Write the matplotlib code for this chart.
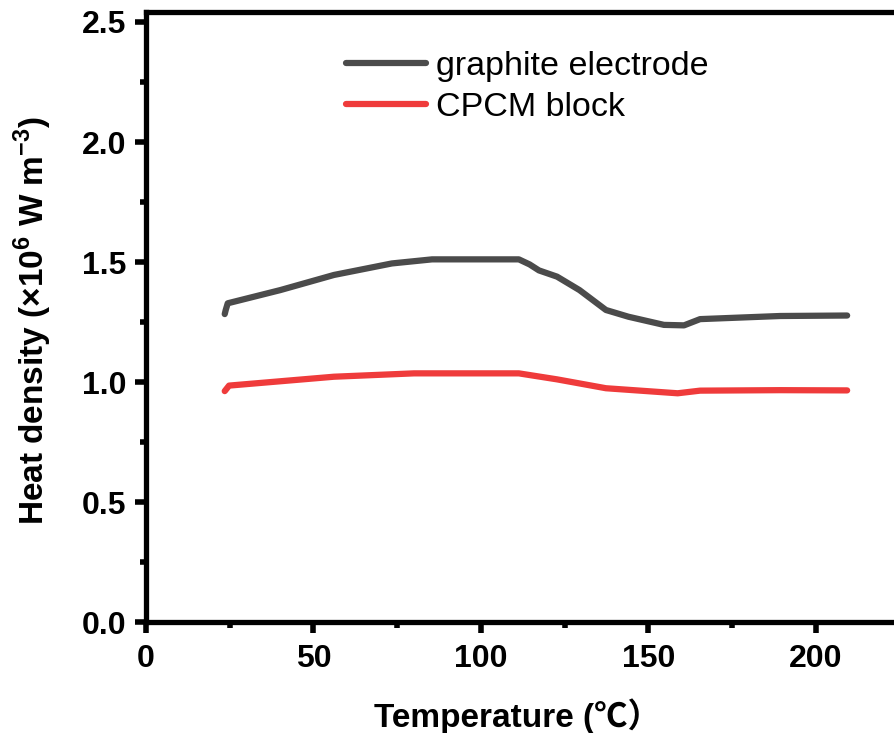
import matplotlib
matplotlib.use("Agg")
import matplotlib.pyplot as plt
from matplotlib.ticker import MultipleLocator

plt.rcParams['font.family'] = ['Liberation Sans', 'Noto Sans CJK SC', 'DejaVu Sans']
plt.rcParams['mathtext.fontset'] = 'custom'
plt.rcParams['mathtext.rm'] = 'Liberation Sans:bold'
plt.rcParams['mathtext.bf'] = 'Liberation Sans:bold'

# graphite electrode
graphite_T = [23.5, 23.8, 24.4, 40.1, 56.1, 73.4, 85.4, 111.3, 114.5, 117.3, 122.7,
              129.4, 137.3, 144.0, 154.6, 160.6, 165.4, 189.3, 209.3]
graphite_q = [1.283, 1.30, 1.328, 1.383, 1.446, 1.494, 1.511, 1.511, 1.49, 1.465, 1.439,
              1.383, 1.30, 1.272, 1.238, 1.236, 1.262, 1.275, 1.277]
# CPCM block
cpcm_T = [23.5, 24.8, 56.1, 80.0, 111.3, 122.7, 137.3, 158.7, 165.4, 189.3, 209.3]
cpcm_q = [0.962, 0.985, 1.022, 1.036, 1.036, 1.011, 0.974, 0.953, 0.964, 0.966, 0.965]

labels = ['graphite electrode', 'CPCM block']

W, H = 895, 733
fig = plt.figure(figsize=(W / 100, H / 100), dpi=100)
left_px, bottom_px, top_px = 146, 622, 12
x_max = 230
px_per_x = 3.35
right_px = left_px + x_max * px_per_x
ax_w = right_px - left_px
ax_h = bottom_px - top_px
ax = fig.add_axes([left_px / W, 1 - bottom_px / H, ax_w / W, ax_h / H])

lw = 4.5
ax.plot(graphite_T, graphite_q, color='#4b4b4b', lw=lw, solid_capstyle='round', solid_joinstyle='round', label=labels[0])
ax.plot(cpcm_T, cpcm_q, color='#ef3b3b', lw=lw, solid_capstyle='round', solid_joinstyle='round', label=labels[1])

ax.set_xlim(0, x_max)
ax.set_ylim(0, 2.5 + 10 / 240)
ax.xaxis.set_major_locator(MultipleLocator(50))
ax.xaxis.set_minor_locator(MultipleLocator(25))
ax.yaxis.set_major_locator(MultipleLocator(0.5))
ax.yaxis.set_minor_locator(MultipleLocator(0.25))
ax.tick_params(which='major', direction='out', length=8, width=4, labelsize=23)
ax.tick_params(axis='x', which='major', pad=8)
ax.tick_params(axis='y', which='major', pad=6)
ax.tick_params(which='minor', direction='out', length=4.5, width=4)
ax.tick_params(top=False, right=False, which='both')
for lab in ax.get_xticklabels() + ax.get_yticklabels():
    lab.set_fontweight('bold')
for s in ax.spines.values():
    s.set_linewidth(3.8)

ax.set_xlabel('Temperature (℃）', fontsize=24, fontweight='bold')
ax.set_ylabel(r'Heat density ($\mathbf{\times}$10$^{6}$ W m$^{-3}$)', fontsize=24, fontweight='bold')
ax.xaxis.set_label_coords((517 - left_px) / ax_w, (bottom_px - 698) / ax_h)
ax.yaxis.set_label_coords((54 - left_px) / ax_w, (bottom_px - 321) / ax_h)

leg = ax.legend(loc='upper left', bbox_to_anchor=(346 / W, 1 - 51 / H), bbox_transform=fig.transFigure,
                frameon=False, fontsize=24.5, handlelength=2.35, handletextpad=0.3,
                labelspacing=0.3, borderpad=0, borderaxespad=0)
for l in leg.get_lines():
    l.set_linewidth(lw)
    l.set_solid_capstyle('round')

fig.savefig('out.png', dpi=100)
